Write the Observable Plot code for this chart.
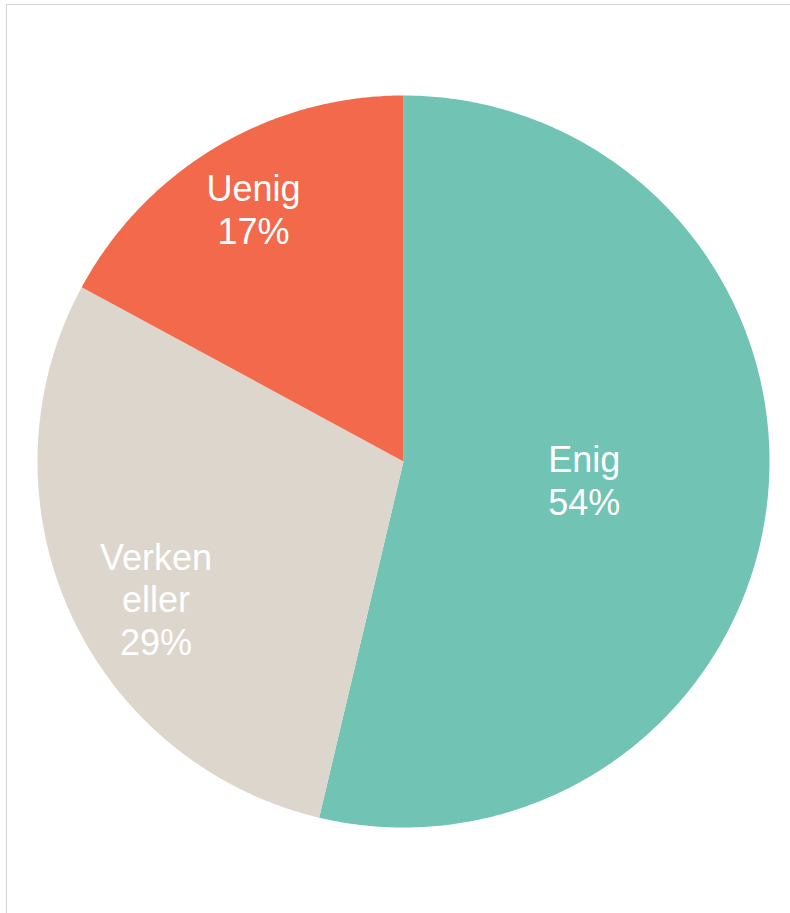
<!DOCTYPE html>
<html>
<head>
<meta charset="utf-8">
<script src="https://cdn.jsdelivr.net/npm/d3@7"></script>
<script src="https://cdn.jsdelivr.net/npm/@observablehq/plot@0.6"></script>
<style>
  html, body { margin: 0; padding: 0; background: #fff; }
  #wrap { position: relative; width: 790px; height: 913px; overflow: hidden; }
  #frame { position: absolute; left: 6px; top: 4px; width: 800px; height: 920px;
           border-left: 1px solid #d6d6d6; border-top: 1px solid #d6d6d6; box-sizing: border-box; }
  #chart { position: absolute; left: 0; top: 0; }
</style>
</head>
<body>
<div id="wrap"><div id="frame"></div><div id="chart"></div></div>
<script>
// Data
const categories = ["Enig", "Verken eller", "Uenig"];
const shares = [53.7, 29.2, 17.1];
const labelTexts = ["Enig\n54%", "Verken\neller\n29%", "Uenig\n17%"];
const colors = ["#71c3b3", "#ddd6cd", "#f26a4b"];

// Layout for labels (radius fraction, angle adjustment in degrees)
const labelLayout = { "Enig": [0.50, 0], "Verken eller": [0.775, -5.5], "Uenig": [0.795, 0] };

const total = d3.sum(shares);
let acc = 0;
const slices = categories.map((c, i) => {
  const a0 = acc / total * 2 * Math.PI;
  acc += shares[i];
  const a1 = acc / total * 2 * Math.PI;
  return { name: c, a0, a1, label: labelTexts[i] };
});

// Polygon points for each wedge (angles clockwise from 12 o'clock, y up)
const pts = [];
slices.forEach(s => {
  pts.push({ name: s.name, x: 0, y: 0 });
  const n = Math.max(2, Math.ceil((s.a1 - s.a0) / (Math.PI / 360)));
  for (let k = 0; k <= n; k++) {
    const a = s.a0 + (s.a1 - s.a0) * k / n;
    pts.push({ name: s.name, x: Math.sin(a), y: Math.cos(a) });
  }
  pts.push({ name: s.name, x: 0, y: 0 });
});

const labels = slices.map(s => {
  const [r, da] = labelLayout[s.name];
  const a = (s.a0 + s.a1) / 2 + da * Math.PI / 180;
  return { text: s.label, x: r * Math.sin(a), y: r * Math.cos(a) };
});

const cx = 403, cy = 461, R = 366;
const plot = Plot.plot({
  width: 790,
  height: 913,
  margin: 0,
  x: { domain: [-1, 1], range: [cx - R, cx + R], axis: null },
  y: { domain: [-1, 1], range: [cy + R, cy - R], axis: null },
  color: { domain: categories, range: colors },
  style: { background: "transparent" },
  marks: [
    Plot.line(pts, { x: "x", y: "y", z: "name", fill: "name", stroke: null, curve: "linear" }),
    Plot.text(labels, {
      x: "x", y: "y", text: "text", dy: -3, dx: -1,
      fill: "white", fontSize: 36, lineHeight: 1.19,
      fontFamily: "Liberation Sans, Arial, sans-serif",
      textAnchor: "middle", lineAnchor: "middle"
    })
  ]
});
document.getElementById("chart").appendChild(plot);
</script>
</body>
</html>
